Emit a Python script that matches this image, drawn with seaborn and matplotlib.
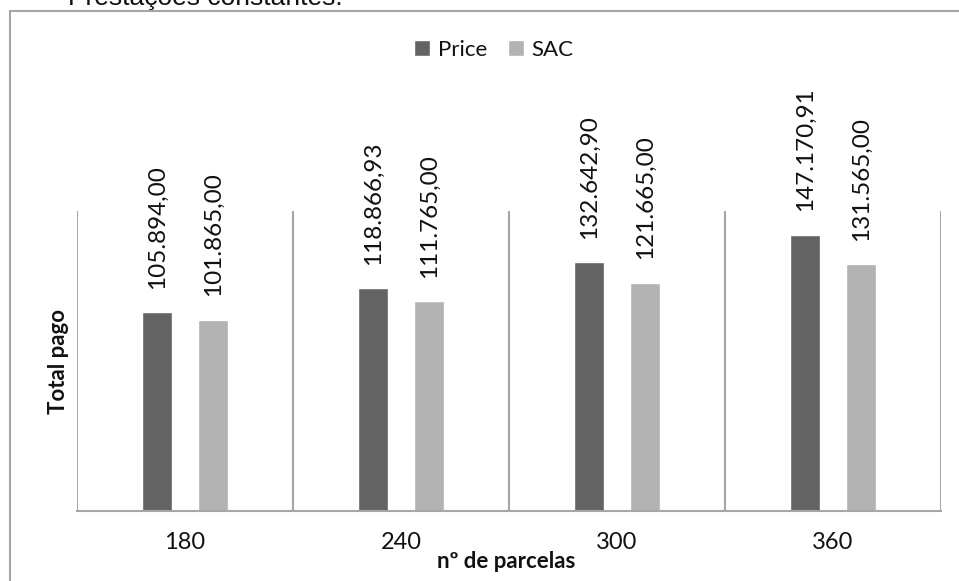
import matplotlib
matplotlib.use("Agg")
import matplotlib.pyplot as plt
from matplotlib.patches import Rectangle
import seaborn as sns
import pandas as pd

# Number of instalments and total paid under each amortisation system
parcelas = ["180", "240", "300", "360"]
price = [105894.00, 118866.93, 132642.90, 147170.91]
sac = [101865.00, 111765.00, 121665.00, 131565.00]
series = ["Price", "SAC"]
colors = ["#636363", "#b3b3b3"]

df = pd.DataFrame({
    "parcelas": parcelas * 2,
    "total": price + sac,
    "sistema": [series[0]] * len(parcelas) + [series[1]] * len(parcelas),
})

sns.set_theme(style="white")
plt.rcParams["font.family"] = ["Lato", "DejaVu Sans"]

fig = plt.figure(figsize=(9.59, 5.81), dpi=100)
ax = fig.add_axes([77 / 959, 1 - 511 / 581, 864 / 959, 300 / 581])

sns.barplot(data=df, x="parcelas", y="total", hue="sistema", order=parcelas,
            hue_order=series, palette=colors, saturation=1, width=0.518,
            gap=0.475, ax=ax, legend=True)

def fmt_br(v):
    s = f"{v:,.2f}"
    return s.replace(",", "X").replace(".", ",").replace("X", ".")

for cont in ax.containers:
    ax.bar_label(cont, labels=[fmt_br(b.get_height()) for b in cont],
                 rotation=90, padding=17, fontsize=17.5, color="#111111")

ax.set_ylim(0, 160000)
ax.set_xlim(-0.5, len(parcelas) - 0.5)
ax.set_yticks([])

line_c = "#a6a6a6"
ax.vlines([i - 0.5 for i in range(len(parcelas) + 1)], 0, 160000,
          colors=line_c, linewidth=1.5, zorder=0)
for s in ["top", "right", "left"]:
    ax.spines[s].set_visible(False)
ax.spines["bottom"].set_color(line_c)
ax.spines["bottom"].set_linewidth(1.5)

ax.tick_params(axis="x", length=0, pad=15, labelsize=17, labelcolor="#111111")

ax.set_xlabel("nº de parcelas", fontsize=16, fontweight="bold", color="#111111")
ax.xaxis.set_label_coords(0.497, -0.17)
ax.xaxis.label.set_va("center")
ax.set_ylabel("Total pago", fontsize=16, fontweight="bold", color="#111111")
ax.yaxis.set_label_coords(-0.021, 0.5)
ax.yaxis.label.set_va("center")

handles, labels = ax.get_legend_handles_labels()
ax.legend(handles, labels, loc="center", bbox_to_anchor=(494 / 959, 1 - 50 / 581),
          bbox_transform=fig.transFigure, ncol=2, frameon=False, fontsize=16,
          handlelength=0.7, handleheight=0.7, handletextpad=0.35,
          columnspacing=0.95, labelcolor="#111111")

# Outer frame of the chart area
fig.patches.append(Rectangle((10 / 959, -0.1), 1.2, 1 - 11 / 581 + 0.1,
                             transform=fig.transFigure, fill=False,
                             edgecolor="#a6a6a6", linewidth=1.5, clip_on=False))

fig.text(68 / 959, 1 - 5 / 581, "Prestações constantes.", fontsize=19,
         family="Liberation Sans", va="baseline", color="#111111")

fig.savefig("out.png", dpi=100)
